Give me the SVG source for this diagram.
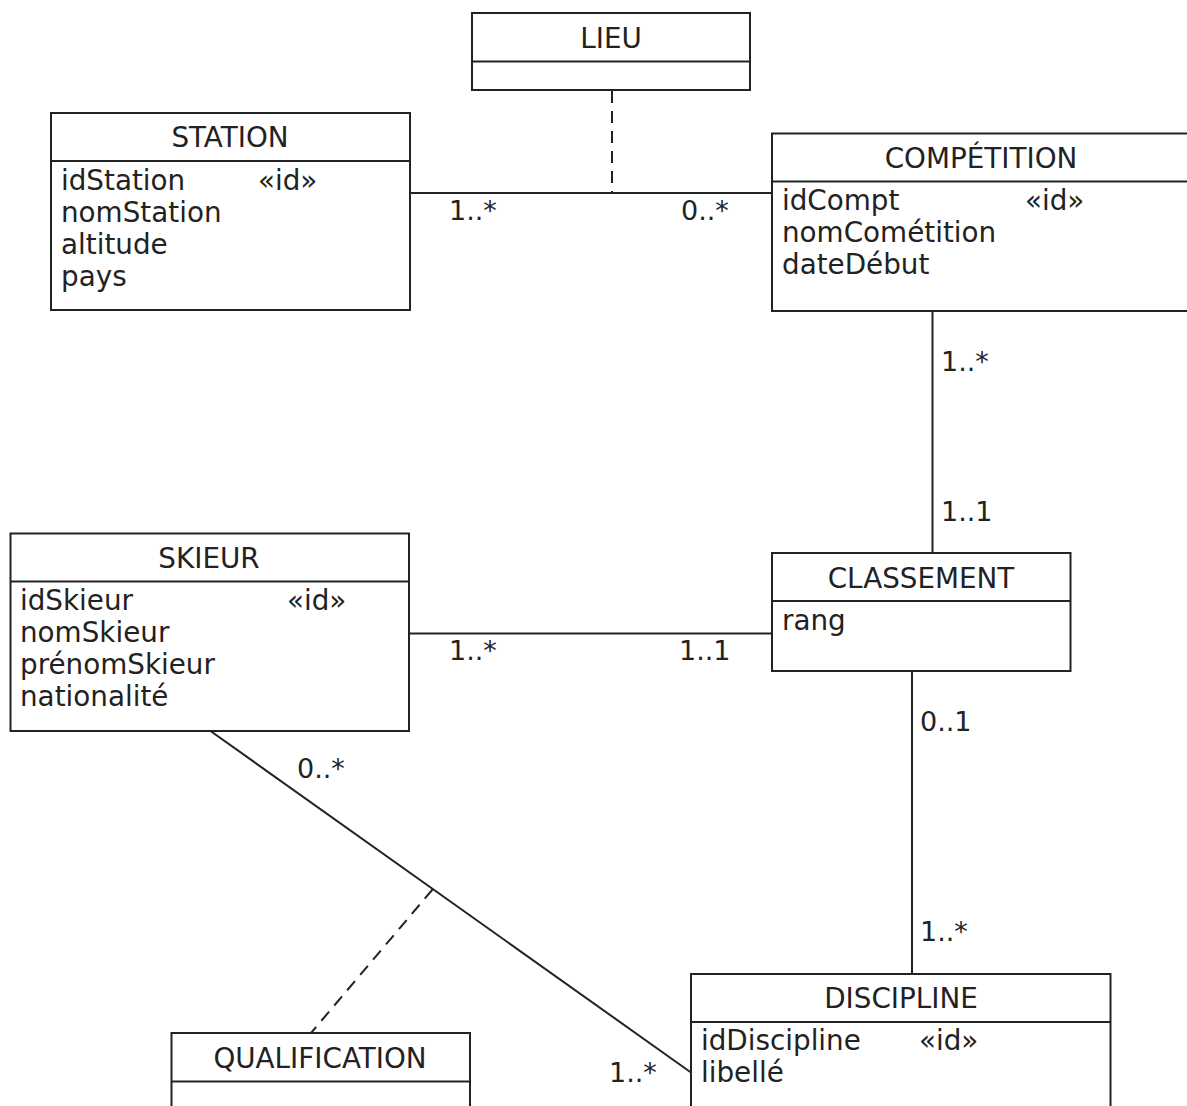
<svg xmlns="http://www.w3.org/2000/svg" width="1187" height="1106" viewBox="0 0 1187 1106">
<style>
text{font-family:"DejaVu Sans","Liberation Sans",sans-serif;font-size:27.8px;fill:#222}
.m{font-size:27px}
.t{text-anchor:middle}
.box{fill:#fff;stroke:#222;stroke-width:2}
.sep{stroke:#222;stroke-width:2}
.ln{stroke:#222;stroke-width:2;fill:none}
.dash{stroke:#222;stroke-width:2;fill:none;stroke-dasharray:12,8}
</style>
<rect width="1187" height="1106" fill="#fff"/>
<g id="connectors">
<line class="ln" x1="410" y1="193" x2="772" y2="193"/>
<line class="dash" x1="612" y1="91" x2="612" y2="193"/>
<line class="ln" x1="932.5" y1="311" x2="932.5" y2="553"/>
<line class="ln" x1="409" y1="633.5" x2="772" y2="633.5"/>
<line class="ln" x1="912" y1="671" x2="912" y2="974"/>
<line class="ln" x1="210.5" y1="731" x2="691" y2="1072.5"/>
<line class="dash" x1="432.5" y1="889.5" x2="311" y2="1033"/>
<text class="m" x="449" y="220">1..*</text>
<text class="m" x="681" y="220">0..*</text>
<text class="m" x="941" y="371">1..*</text>
<text class="m" x="941" y="521">1..1</text>
<text class="m" x="449" y="660">1..*</text>
<text class="m" x="679" y="660">1..1</text>
<text class="m" x="920" y="731">0..1</text>
<text class="m" x="920" y="941">1..*</text>
<text class="m" x="297" y="778">0..*</text>
<text class="m" x="609" y="1082">1..*</text>
</g>
<g id="lieu">
<rect class="box" x="472" y="13" width="278" height="77"/>
<line class="sep" x1="472" y1="61.5" x2="750" y2="61.5"/>
<text class="t" x="611" y="48">LIEU</text>
</g>
<g id="station">
<rect class="box" x="51" y="113" width="359" height="197"/>
<line class="sep" x1="51" y1="161" x2="410" y2="161"/>
<text class="t" x="230" y="147">STATION</text>
<text x="61" y="190">idStation</text>
<text x="258" y="190">«id»</text>
<text x="61" y="222">nomStation</text>
<text x="61" y="254">altitude</text>
<text x="61" y="286">pays</text>
</g>
<g id="competition">
<rect class="box" x="772" y="133.5" width="420" height="177.5"/>
<line class="sep" x1="772" y1="181.5" x2="1192" y2="181.5"/>
<text class="t" x="981" y="168">COMPÉTITION</text>
<text x="782" y="210">idCompt</text>
<text x="1025" y="210">«id»</text>
<text x="782" y="242">nomCométition</text>
<text x="782" y="274">dateDébut</text>
</g>
<g id="skieur">
<rect class="box" x="10.5" y="533.5" width="398.5" height="197.5"/>
<line class="sep" x1="10.5" y1="581.5" x2="409" y2="581.5"/>
<text class="t" x="209" y="568">SKIEUR</text>
<text x="20" y="610">idSkieur</text>
<text x="287" y="610">«id»</text>
<text x="20" y="642">nomSkieur</text>
<text x="20" y="674">prénomSkieur</text>
<text x="20" y="706">nationalité</text>
</g>
<g id="classement">
<rect class="box" x="772" y="553" width="298.5" height="118"/>
<line class="sep" x1="772" y1="601" x2="1070.5" y2="601"/>
<text class="t" x="921" y="588">CLASSEMENT</text>
<text x="782" y="630">rang</text>
</g>
<g id="discipline">
<rect class="box" x="691" y="974" width="419.5" height="140"/>
<line class="sep" x1="691" y1="1022" x2="1110.5" y2="1022"/>
<text class="t" x="901" y="1008">DISCIPLINE</text>
<text x="701" y="1050">idDiscipline</text>
<text x="919" y="1050">«id»</text>
<text x="701" y="1082">libellé</text>
</g>
<g id="qualification">
<rect class="box" x="171.5" y="1033" width="298.5" height="80"/>
<line class="sep" x1="171.5" y1="1081.5" x2="470" y2="1081.5"/>
<text class="t" x="320" y="1068">QUALIFICATION</text>
</g>
</svg>
